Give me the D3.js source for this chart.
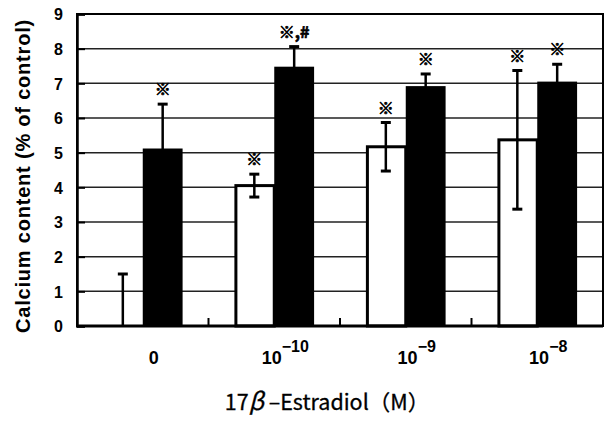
<!DOCTYPE html>
<html lang="en">
<head>
  <meta charset="UTF-8">
  <title>Calcium content vs 17β-Estradiol</title>
  <script src="https://d3js.org/d3.v7.min.js"></script>
  <style>
    body {
      margin: 0;
      background: white;
    }
    svg {
      display: block;
    }
    .tick-label {
      font-family: "Liberation Sans", Arial, sans-serif;
      font-weight: bold;
      fill: black;
    }
    .mark {
      font-family: "Noto Sans CJK JP", sans-serif;
      font-weight: bold;
      font-size: 16px;
      fill: black;
      stroke: black;
      stroke-width: 0.7px;
    }
  </style>
</head>
<body>
  <svg id="chart" width="606" height="423"></svg>

  <script>
    // concentrations: base + exponent (null = plain label)
    const categories = ["0", "1e-10", "1e-9", "1e-8"];
    const catBase = ["0", "10", "10", "10"];
    const catExp = [null, "\u221210", "\u22129", "\u22128"];

    // open bars (white) and filled bars (black), mean and SD
    const whiteMeans = [0, 4.05, 5.17, 5.37];
    const whiteErr = [1.5, 0.33, 0.7, 2.0];
    const blackMeans = [5.12, 7.48, 6.92, 7.05];
    const blackErr = [1.28, 0.58, 0.35, 0.5];

    // significance marks above each bar
    const REF = "\u203B";
    const whiteMarks = ["", REF, REF, REF];
    const blackMarks = [REF, REF + ",#", REF, REF];

    const yTicks = [0, 1, 2, 3, 4, 5, 6, 7, 8, 9];

    const svg = d3.select("#chart");
    const margin = {top: 14, right: 3, bottom: 97, left: 77};
    const width = +svg.attr("width") - margin.left - margin.right,
          height = +svg.attr("height") - margin.top - margin.bottom;

    const g = svg.append("g").attr("transform", `translate(${margin.left},${margin.top})`);

    const x = d3.scaleBand().domain(categories).range([0, width]).padding(0);
    const xSub = d3.scaleBand().domain(["white", "black"]).range([0, x.bandwidth()])
      .paddingInner(0).paddingOuter(0.65);
    const y = d3.scaleLinear().domain([0, 9]).range([height, 0]);

    // gridlines
    g.selectAll("line.grid")
      .data(yTicks.slice(1, -1))
      .enter().append("line")
      .attr("class", "grid")
      .attr("x1", 0).attr("x2", width)
      .attr("y1", d => y(d)).attr("y2", d => y(d))
      .attr("stroke", "#222").attr("stroke-width", 1.5);

    // bars
    const rows = categories.map((c, i) => ({
      cat: c,
      bars: [
        {key: "white", mean: whiteMeans[i], err: whiteErr[i], mark: whiteMarks[i]},
        {key: "black", mean: blackMeans[i], err: blackErr[i], mark: blackMarks[i]}
      ]
    }));

    const groups = g.selectAll("g.group")
      .data(rows)
      .enter().append("g")
      .attr("class", "group")
      .attr("transform", d => `translate(${x(d.cat)},0)`);

    groups.selectAll("rect")
      .data(d => d.bars.filter(b => b.mean > 0))
      .enter().append("rect")
      .attr("x", d => xSub(d.key) + (d.key === "white" ? 1.5 : 0))
      .attr("y", d => y(d.mean))
      .attr("width", d => xSub.bandwidth() - (d.key === "white" ? 1.5 : 0))
      .attr("height", d => y(0) - y(d.mean))
      .attr("fill", d => d.key === "white" ? "white" : "black")
      .attr("stroke", "black")
      .attr("stroke-width", d => d.key === "white" ? 3 : 0);

    // error bars
    const errG = groups.selectAll("g.err")
      .data(d => d.bars)
      .enter().append("g")
      .attr("class", "err")
      .attr("transform", d => `translate(${xSub(d.key) + xSub.bandwidth() / 2},0)`);

    errG.append("line")
      .attr("y1", d => y(Math.max(0, d.mean - d.err)))
      .attr("y2", d => y(d.mean + d.err))
      .attr("stroke", "black").attr("stroke-width", 2.5);

    errG.append("line")
      .attr("x1", -5).attr("x2", 5)
      .attr("y1", d => y(d.mean + d.err)).attr("y2", d => y(d.mean + d.err))
      .attr("stroke", "black").attr("stroke-width", 3);

    errG.filter(d => d.mean - d.err > 0).append("line")
      .attr("x1", -5).attr("x2", 5)
      .attr("y1", d => y(d.mean - d.err)).attr("y2", d => y(d.mean - d.err))
      .attr("stroke", "black").attr("stroke-width", 3);

    errG.append("text")
      .attr("class", "mark")
      .attr("text-anchor", "middle")
      .attr("y", d => y(d.mean + d.err) - 9)
      .text(d => d.mark);

    // frame
    g.append("rect")
      .attr("width", width).attr("height", height)
      .attr("fill", "none").attr("stroke", "black").attr("stroke-width", 2);

    // y axis
    const yAxis = g.append("g")
      .call(d3.axisLeft(y).tickValues(yTicks).tickSize(-8).tickPadding(14));
    yAxis.select(".domain").attr("stroke-width", 2.5);
    yAxis.selectAll(".tick line").attr("stroke-width", 2);
    yAxis.selectAll("text").attr("class", "tick-label").style("font-size", "16px")
      .attr("dy", "0.36em");

    // x axis: line at y=0, small ticks at category boundaries
    g.append("line")
      .attr("x1", 0).attr("x2", width)
      .attr("y1", height).attr("y2", height)
      .attr("stroke", "black").attr("stroke-width", 3);

    g.selectAll("line.xtick")
      .data(categories.slice(1))
      .enter().append("line")
      .attr("class", "xtick")
      .attr("x1", d => x(d)).attr("x2", d => x(d))
      .attr("y1", height).attr("y2", height - 8)
      .attr("stroke", "black").attr("stroke-width", 2);

    const xLabels = g.selectAll("text.xlab")
      .data(categories)
      .enter().append("text")
      .attr("class", "tick-label xlab")
      .attr("text-anchor", "middle")
      .attr("x", d => x(d) + x.bandwidth() / 2 + 11)
      .attr("y", height + 38)
      .style("font-size", "18px");

    xLabels.append("tspan").text((d, i) => catBase[i]);
    xLabels.append("tspan")
      .attr("dy", -12)
      .style("font-size", "16px")
      .text((d, i) => catExp[i] || "");

    // axis titles
    svg.append("text")
      .attr("transform", `translate(30,${margin.top + height / 2 + 6}) rotate(-90)`)
      .attr("text-anchor", "middle")
      .style("font-family", "'Liberation Sans', Arial, sans-serif")
      .style("font-weight", "bold")
      .style("font-size", "20px")
      .style("letter-spacing", "0.8px")
      .text("Calcium content (% of control)");

    const xTitle = svg.append("text")
      .attr("x", 327)
      .attr("y", 410)
      .attr("text-anchor", "middle")
      .style("font-family", "'Noto Sans CJK JP', sans-serif")
      .style("font-size", "21.5px")
      .style("stroke", "black")
      .style("stroke-width", "0.3px");
    xTitle.append("tspan").text("17");
    xTitle.append("tspan").style("font-style", "italic").style("font-size", "24px").text("\u03B2");
    xTitle.append("tspan").text(" \u2013Estradiol\uFF08M\uFF09");
  </script>
</body>
</html>
